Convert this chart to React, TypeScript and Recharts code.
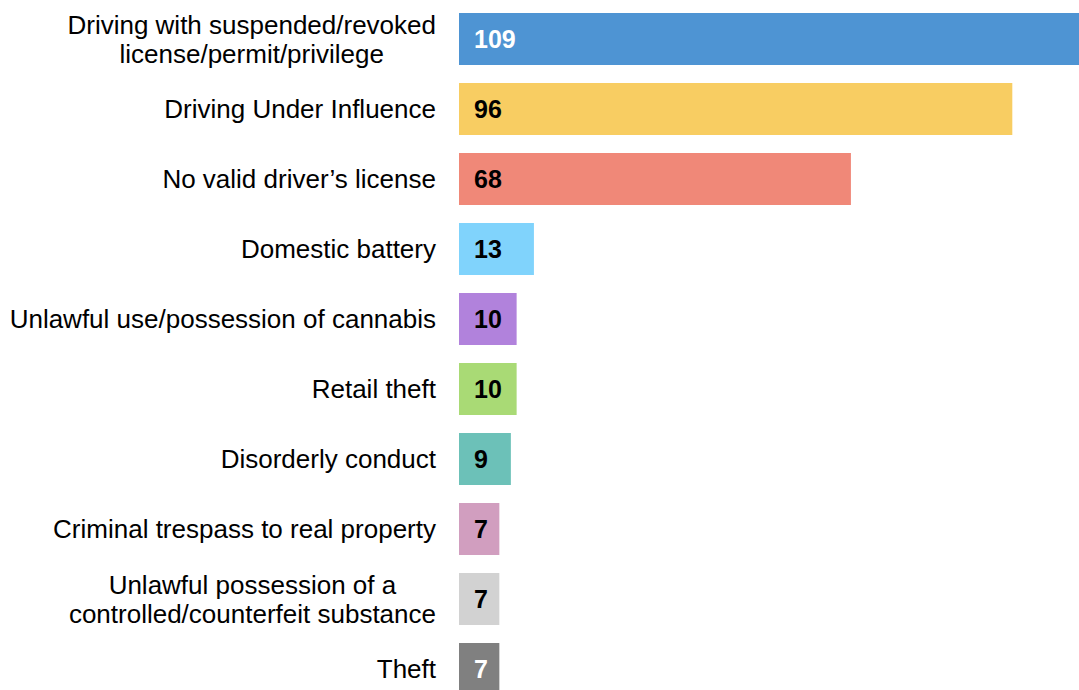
import React from 'react';
import { BarChart, Bar, XAxis, YAxis, Cell, LabelList } from 'recharts';

const offenses = [
  'Driving with suspended/revoked\nlicense/permit/privilege',
  'Driving Under Influence',
  'No valid driver\u2019s license',
  'Domestic battery',
  'Unlawful use/possession of cannabis',
  'Retail theft',
  'Disorderly conduct',
  'Criminal trespass to real property',
  'Unlawful possession of a\ncontrolled/counterfeit substance',
  'Theft',
];
const counts = [109, 96, 68, 13, 10, 10, 9, 7, 7, 7];
const colors = ['#4e94d3', '#f8cd62', '#f08878', '#80d3fc', '#b182dc', '#a9da75', '#6cc1b8', '#d19ebf', '#d2d2d2', '#808080'];
const labelColors = ['#fff', '#000', '#000', '#000', '#000', '#000', '#000', '#000', '#000', '#fff'];

const data = offenses.map((name, i) => ({ name, value: counts[i], idx: i }));

const FONT = '26px "Liberation Sans", Arial, sans-serif';
let ctx: CanvasRenderingContext2D | null = null;
const measure = (s: string) => {
  if (!ctx) ctx = document.createElement('canvas').getContext('2d');
  if (!ctx) return s.length * 12;
  ctx.font = FONT;
  return ctx.measureText(s).width;
};

const CategoryTick = ({ x, y, payload }: any) => {
  const lines: string[] = String(payload.value).split('\n');
  const lh = 29;
  const right = x - 15;
  if (lines.length === 1) {
    return (
      <text x={right} y={y} dy={9} textAnchor="end" fill="#000" style={{ font: FONT }}>
        {lines[0]}
      </text>
    );
  }
  const w = Math.max(...lines.map(measure));
  const cx = right - w / 2;
  const top = y - ((lines.length - 1) * lh) / 2;
  return (
    <text textAnchor="middle" fill="#000" style={{ font: FONT }}>
      {lines.map((l, i) => (
        <tspan key={i} x={cx} y={top + i * lh} dy={9}>{l}</tspan>
      ))}
    </text>
  );
};

const ValueLabel = ({ x, y, height, value, index }: any) => (
  <text
    x={x + 15}
    y={y + height / 2}
    dy={9}
    fill={labelColors[index]}
    style={{ font: 'bold 25px "Liberation Sans", Arial, sans-serif' }}
  >
    {value}
  </text>
);

export default function App() {
  return (
    <div style={{ position: 'fixed', left: 0, top: 0, width: 1079, height: 690, overflow: 'hidden', background: '#fff' }}>
      <BarChart
        width={1093}
        height={710}
        data={data}
        layout="vertical"
        margin={{ top: 4, right: 0, bottom: 6, left: 0 }}
        barSize={52}
      >
        <XAxis type="number" domain={[0, 110]} hide allowDataOverflow />
        <YAxis
          type="category"
          dataKey="name"
          width={459}
          axisLine={false}
          tickLine={false}
          tick={<CategoryTick />}
          interval={0}
        />
        <Bar dataKey="value" isAnimationActive={false}>
          {data.map((d) => (
            <Cell key={d.idx} fill={colors[d.idx]} />
          ))}
          <LabelList dataKey="value" content={<ValueLabel />} />
        </Bar>
      </BarChart>
    </div>
  );
}
